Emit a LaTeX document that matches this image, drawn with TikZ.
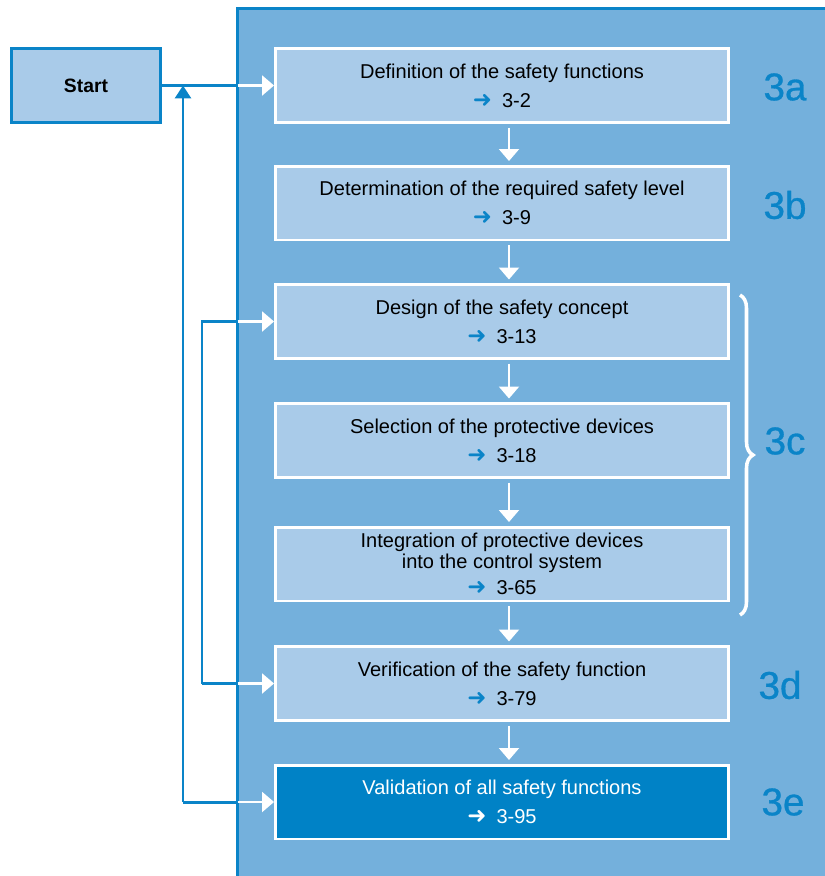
\documentclass[tikz,border=0pt]{standalone}
\usepackage{fontspec}
\setmainfont{Liberation Sans}
\newfontfamily\symbolfont{DejaVu Sans}
\newfontfamily\phasefont{Liberation Sans}[FakeBold=0.8]
\definecolor{sickblue}{HTML}{0A84C8}
\definecolor{panelblue}{HTML}{74B0DC}
\definecolor{paleblue}{HTML}{A9CBE9}
\definecolor{deepblue}{HTML}{0082C6}
\usetikzlibrary{arrows.meta,decorations.pathreplacing}
\newcommand{\seeref}[2][sickblue]{{\symbolfont\fontsize{13}{12}\selectfont\textcolor{#1}{➜}}\enspace #2}

\begin{document}
\begin{tikzpicture}[
  x=0.02cm, y=-0.02cm,
  task/.style={rectangle, draw=white, fill=paleblue, line width=1.7pt,
    minimum width=9.06cm, minimum height=1.48cm, inner sep=0pt,
    align=center, font=\fontsize{11.4}{12}\selectfont},
  finalbox/.style={task, fill=deepblue, text=white},
  startbox/.style={rectangle, draw=sickblue, fill=paleblue, line width=1.7pt,
    minimum width=2.98cm, minimum height=1.48cm,
    font=\fontsize{11}{13}\selectfont\bfseries},
  phase/.style={text=sickblue, font=\phasefont\fontsize{22}{26}\selectfont},
  arr/.style={-{Triangle[width=0.4cm,length=0.24cm]}, white, line width=1.2pt},
  feedback/.style={sickblue, line width=1.7pt},
]
  \useasboundingbox (0,0) rectangle (825,876);
  % background panel
  \fill[panelblue] (237,8.5) rectangle (825,876);
  \draw[sickblue, line width=1.7pt] (237.5,876) -- (237.5,8.5) -- (825,8.5);

  \node[startbox] (start) at (86,85.5) {Start};

  \node[task] (def) at (502,85.5)
    {Definition of the safety functions\\[4.4pt]\seeref{3-2}};
  \node[task] (level) at (502,203)
    {Determination of the required safety level\\[4.4pt]\seeref{3-9}};
  \node[task] (design) at (502,321.5)
    {Design of the safety concept\\[4.4pt]\seeref{3-13}};
  \node[task] (select) at (502,440.5)
    {Selection of the protective devices\\[4.4pt]\seeref{3-18}};
  \node[task] (integ) at (502,564)
    {Integration of protective devices\\into the control system\\[2.7pt]\seeref{3-65}};
  \node[task] (verif) at (502,683.5)
    {Verification of the safety function\\[4.4pt]\seeref{3-79}};
  \node[finalbox] (valid) at (502,802)
    {Validation of all safety functions\\[4.4pt]\seeref[white]{3-95}};

  \node[phase] (pa) at (785,87) {3a};
  \node[phase] (pb) at (785,205) {3b};
  \node[phase] (pc) at (785,441) {3c};
  \node[phase] (pd) at (780,685) {3d};
  \node[phase] (pe) at (783,802) {3e};

  % flow down the column
  \foreach \a/\b in {def/level, level/design, design/select,
                     select/integ, integ/verif, verif/valid}
    \draw[arr, shorten <=2pt, shorten >=2pt]
      ([xshift=0.14cm]\a.south) -- ([xshift=0.14cm]\b.north);

  % points on the panel edge and the loops
  \coordinate (edge1) at (237.5,85.5);
  \coordinate (edge3) at (237.5,321.5);
  \coordinate (edge6) at (237.5,683.5);
  \coordinate (edge7) at (237.5,802);
  \coordinate (outerTop) at (183,85.5);
  \coordinate (outerBot) at (183,802);
  \coordinate (innerTop) at (202,321.5);
  \coordinate (innerBot) at (202,683.5);

  \draw[feedback] (start.east) -- (edge1);
  \draw[arr] (edge1) -- (def.west);

  % outer loop back to the start
  \draw[feedback, -{Triangle[width=0.32cm,length=0.26cm]}] (outerBot) -- (outerTop);
  \draw[feedback] (outerBot) -- (edge7);
  \draw[arr] (edge7) -- (valid.west);

  % inner loop back to the design
  \draw[feedback] (innerBot) -- (innerTop) -- (edge3);
  \draw[arr] (edge3) -- (design.west);
  \draw[feedback] (innerBot) -- (edge6);
  \draw[arr] (edge6) -- (verif.west);

  % brace for 3c
  \draw[white, line width=2pt, decorate,
    decoration={brace, amplitude=0.26cm}] (740,295) -- (740,615);
\end{tikzpicture}
\end{document}
